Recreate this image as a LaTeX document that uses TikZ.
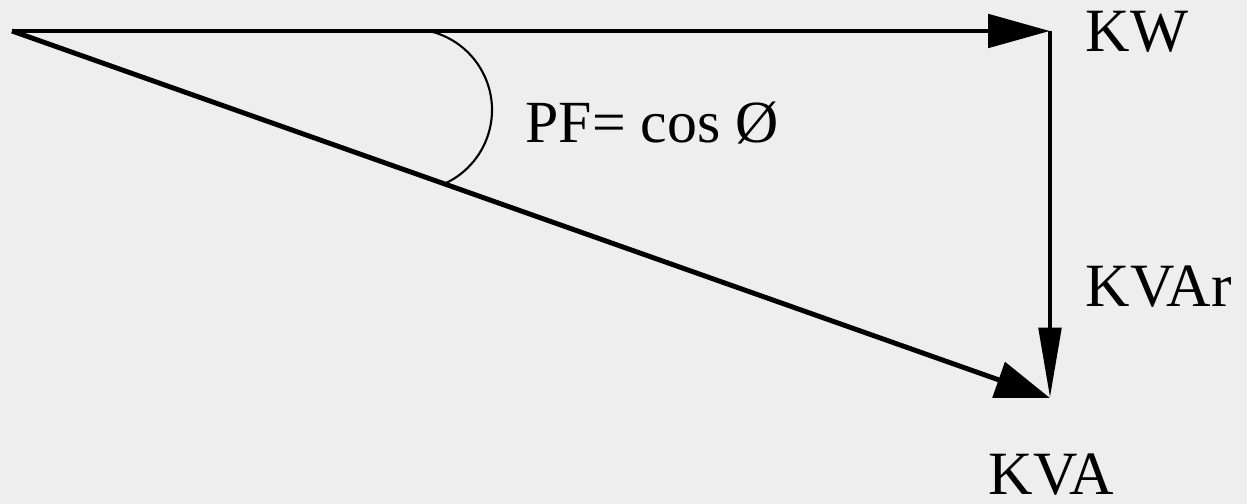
\documentclass[tikz,border=0pt]{standalone}
\usepackage{fontspec}
\setmainfont{Liberation Serif}
\usetikzlibrary{arrows.meta}
\definecolor{bgrey}{HTML}{EEEEEE}
\begin{document}
\begin{tikzpicture}[x=0.01cm,y=-0.01cm,
  vec/.style={line width=1.4pt},
  lbl/.style={anchor=base west,inner sep=0pt,font=\fontsize{17.5}{20}\selectfont}]
% background (fixes the margins)
\fill[bgrey] (0,0) rectangle (1247,504);
\useasboundingbox (0,0) rectangle (1247,504);
% corners of the power triangle
\coordinate (O) at (12,31);
\coordinate (kw) at (1050,31);
\coordinate (kva) at (1050,398);
% vectors
\draw[vec,-{Triangle[length=17.6pt,width=9.4pt]}] (O) -- (kw);
\draw[vec,-{Triangle[length=20pt,width=6.3pt]}] (kw) -- (kva);
\draw[vec,-{Triangle[length=15.5pt,width=10.5pt]}] (O) -- (kva);
% angle arc (y axis points down here)
\draw[line width=0.6pt] (411,110) ++(-76:81) arc (-76:65:81);
% labels
\node[lbl] (tkw) at (1085,52) {KW};
\node[lbl] (tkvar) at (1085,307) {KVAr};
\node[lbl] (tkva) at (988,495) {KVA};
\node[lbl,font=\fontsize{17}{20}\selectfont] (tpf) at (525,143) {PF= cos Ø};
\end{tikzpicture}
\end{document}
